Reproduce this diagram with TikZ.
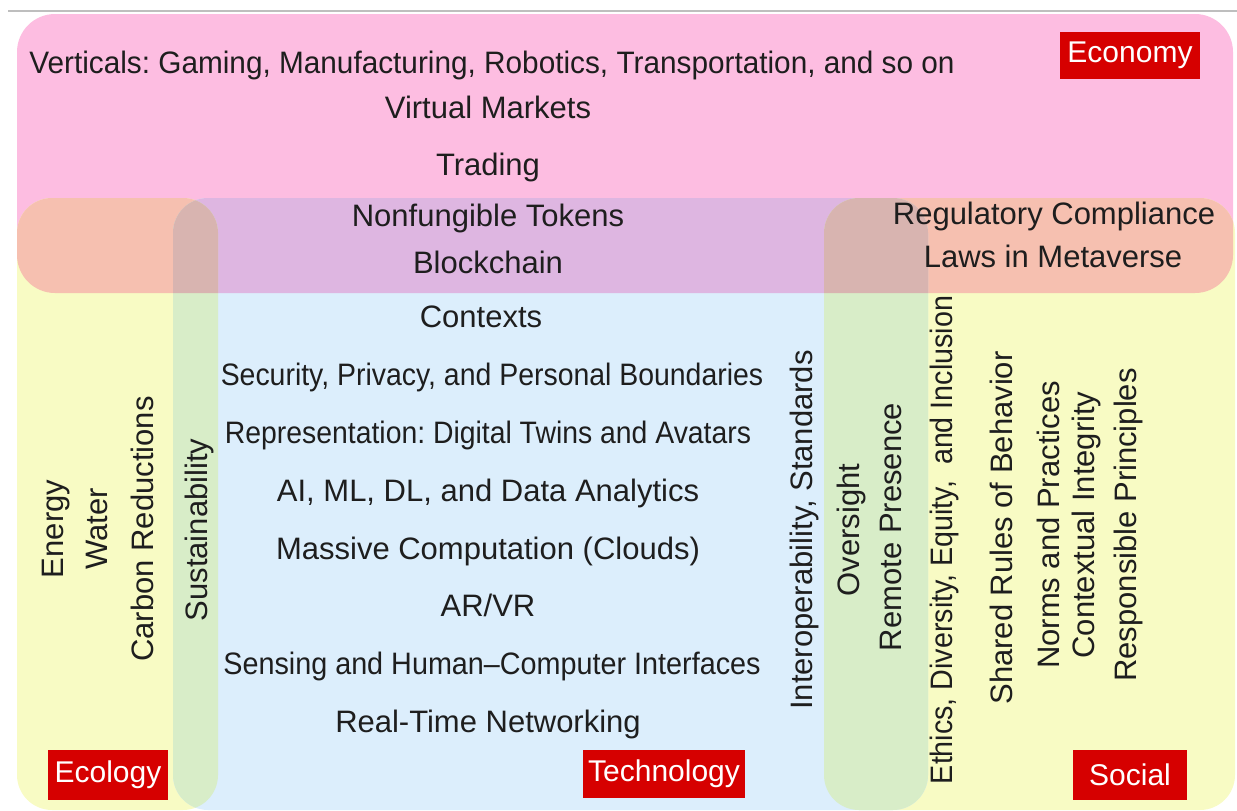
\documentclass[tikz,border=0pt]{standalone}
\usepackage{fontspec}
\setmainfont{Liberation Sans}
\definecolor{econpink}{RGB}{253,189,225}
\definecolor{ecoyellow}{RGB}{248,251,196}
\definecolor{techblue}{RGB}{220,238,252}
\definecolor{mixpurple}{RGB}{222,182,225}
\definecolor{mixorange}{RGB}{246,192,176}
\definecolor{mixgreen}{RGB}{216,237,200}
\definecolor{mixtriple}{RGB}{216,180,176}
\definecolor{labelred}{RGB}{214,0,0}
\definecolor{textc}{RGB}{30,30,30}
\definecolor{rulegray}{RGB}{190,190,190}
\newcommand{\tightx}[2]{\scalebox{#1}[1]{#2}}
\begin{document}
\frenchspacing
\begin{tikzpicture}[x=1pt,y=-1pt,
  txt/.style={text=textc, font=\fontsize{31}{36}\selectfont\frenchspacing, inner sep=0pt},
  htxt/.style={txt, anchor=base},
  vtxt/.style={txt, rotate=90, anchor=center},
  lbl/.style={fill=labelred, text=white, font=\fontsize{30}{34}\selectfont, inner sep=0pt, anchor=center},
  rr/.style={rounded corners=35pt}]
\useasboundingbox (0,0) rectangle (1237,811);
% top rule
\coordinate (ruleL) at (8,11);
\coordinate (ruleR) at (1237,11);
\draw[rulegray, line width=2pt] (ruleL) -- (ruleR);
% base regions
\fill[econpink, rounded corners=38pt] (17,14) rectangle (1233,293);
\fill[ecoyellow, rr] (17,198) rectangle (218,810);
\fill[ecoyellow, rr] (824,198) rectangle (1235,810);
\fill[techblue, rr] (173,198) rectangle (928,810);
% overlaps with economy
\begin{scope}
  \clip[rounded corners=38pt] (17,14) rectangle (1233,293);
  \fill[mixorange, rr] (17,198) rectangle (218,810);
  \fill[mixorange, rr] (824,198) rectangle (1235,810);
  \fill[mixpurple, rr] (173,198) rectangle (928,810);
\end{scope}
% ecology / social with technology
\begin{scope}
  \clip[rr] (17,198) rectangle (218,810);
  \fill[mixgreen, rr] (173,198) rectangle (928,810);
\end{scope}
\begin{scope}
  \clip[rr] (824,198) rectangle (1235,810);
  \fill[mixgreen, rr] (173,198) rectangle (928,810);
\end{scope}
% triple overlaps
\begin{scope}
  \clip[rounded corners=38pt] (17,14) rectangle (1233,293);
  \clip[rr] (17,198) rectangle (218,810);
  \fill[mixtriple, rr] (173,198) rectangle (928,810);
\end{scope}
\begin{scope}
  \clip[rounded corners=38pt] (17,14) rectangle (1233,293);
  \clip[rr] (824,198) rectangle (1235,810);
  \fill[mixtriple, rr] (173,198) rectangle (928,810);
\end{scope}
% labels
\node[lbl, minimum width=140pt, minimum height=47pt] (economy) at (1130,55) {Economy};
\node[lbl, minimum width=120pt, minimum height=50pt] (ecology) at (108,775) {Ecology};
\node[lbl, minimum width=162pt, minimum height=48pt] (technology) at (664,774) {Technology};
\node[lbl, minimum width=114pt, minimum height=50pt] (social) at (1130,775) {Social};
% economy texts
\node[htxt] (verticals) at (492,73) {\tightx{0.96}{Verticals: Gaming, Manufacturing, Robotics, Transportation, and so on}};
\node[htxt] (markets) at (488,118) {Virtual Markets};
\node[htxt] (trading) at (488,175) {Trading};
\node[htxt] (nft) at (488,226) {Nonfungible Tokens};
\node[htxt] (blockchain) at (488,273) {Blockchain};
\node[htxt] (regulatory) at (1054,224) {Regulatory Compliance};
\node[htxt] (laws) at (1053,267) {Laws in Metaverse};
% technology texts
\node[htxt] (contexts) at (481,327) {Contexts};
\node[htxt] (security) at (492,385) {\tightx{0.917}{Security, Privacy, and Personal Boundaries}};
\node[htxt] (represent) at (488,443) {\tightx{0.915}{Representation: Digital Twins and Avatars}};
\node[htxt] (ai) at (488,501) {AI, ML, DL, and Data Analytics};
\node[htxt] (massive) at (488,559) {Massive Computation (Clouds)};
\node[htxt] (arvr) at (488,616) {AR/VR};
\node[htxt] (sensing) at (492,674) {\tightx{0.928}{Sensing and Human--Computer Interfaces}};
\node[htxt] (realtime) at (488,732) {Real-Time Networking};
% ecology texts
\node[vtxt] (energy) at (56,529) {Energy};
\node[vtxt] (water) at (97,529) {Water};
\node[vtxt] (carbon) at (142,529) {Carbon Reductions};
\node[vtxt] (sustain) at (199,530) {Sustainability};
% interop / oversight
\node[vtxt] (interop) at (804,530) {Interoperability, Standards};
\node[vtxt] (oversight) at (851,530) {Oversight};
\node[vtxt] (remote) at (891,527) {Remote Presence};
% social texts
\node[vtxt] (ethics) at (944,540) {\tightx{0.925}{Ethics, Diversity, Equity,\ \ and Inclusion}};
\node[vtxt] (shared) at (1001,528) {Shared Rules of Behavior};
\node[vtxt] (norms) at (1048,525) {Norms and Practices};
\node[vtxt] (contextual) at (1086,525) {Contextual Integrity};
\node[vtxt] (responsible) at (1128,525) {Responsible Principles};
\end{tikzpicture}
\end{document}
